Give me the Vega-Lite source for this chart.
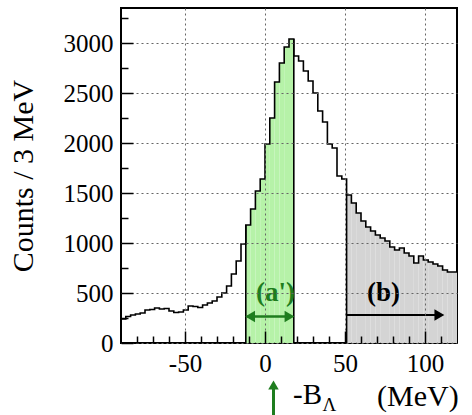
{
  "$schema": "https://vega.github.io/schema/vega-lite/v6.json",
  "width": 336,
  "height": 335,
  "autosize": {"type": "none"},
  "padding": {"left": 121, "top": 8, "right": 15, "bottom": 72},
  "background": "white",
  "config": {
    "view": {"stroke": "black", "strokeWidth": 2},
    "font": "Liberation Serif",
    "axis": {
      "labelFont": "Liberation Serif",
      "titleFont": "Liberation Serif",
      "labelColor": "black",
      "titleColor": "black",
      "tickColor": "black",
      "labelFontSize": 25,
      "domain": false
    }
  },
  "datasets": {
    "hist": [
      {"lo": -90, "hi": -87, "count": 240},
      {"lo": -87, "hi": -84, "count": 265},
      {"lo": -84, "hi": -81, "count": 280},
      {"lo": -81, "hi": -78, "count": 290},
      {"lo": -78, "hi": -75, "count": 300},
      {"lo": -75, "hi": -72, "count": 330},
      {"lo": -72, "hi": -69, "count": 335},
      {"lo": -69, "hi": -66, "count": 350},
      {"lo": -66, "hi": -63, "count": 340},
      {"lo": -63, "hi": -60, "count": 345},
      {"lo": -60, "hi": -57, "count": 320},
      {"lo": -57, "hi": -54, "count": 305},
      {"lo": -54, "hi": -51, "count": 310},
      {"lo": -51, "hi": -48, "count": 330},
      {"lo": -48, "hi": -45, "count": 370},
      {"lo": -45, "hi": -42, "count": 365},
      {"lo": -42, "hi": -39, "count": 355},
      {"lo": -39, "hi": -36, "count": 380},
      {"lo": -36, "hi": -33, "count": 400},
      {"lo": -33, "hi": -30, "count": 420},
      {"lo": -30, "hi": -27, "count": 460},
      {"lo": -27, "hi": -24, "count": 500},
      {"lo": -24, "hi": -21, "count": 570},
      {"lo": -21, "hi": -18, "count": 690},
      {"lo": -18, "hi": -15, "count": 820},
      {"lo": -15, "hi": -12, "count": 990},
      {"lo": -12, "hi": -9, "count": 1180},
      {"lo": -9, "hi": -6, "count": 1340},
      {"lo": -6, "hi": -3, "count": 1520},
      {"lo": -3, "hi": 0, "count": 1640},
      {"lo": 0, "hi": 3, "count": 1990},
      {"lo": 3, "hi": 6, "count": 2250},
      {"lo": 6, "hi": 9, "count": 2610},
      {"lo": 9, "hi": 12, "count": 2800},
      {"lo": 12, "hi": 15, "count": 2960},
      {"lo": 15, "hi": 18, "count": 3040},
      {"lo": 18, "hi": 21, "count": 2870},
      {"lo": 21, "hi": 24, "count": 2820},
      {"lo": 24, "hi": 27, "count": 2720},
      {"lo": 27, "hi": 30, "count": 2620},
      {"lo": 30, "hi": 33, "count": 2500},
      {"lo": 33, "hi": 36, "count": 2320},
      {"lo": 36, "hi": 39, "count": 2210},
      {"lo": 39, "hi": 42, "count": 1990},
      {"lo": 42, "hi": 45, "count": 1950},
      {"lo": 45, "hi": 48, "count": 1670},
      {"lo": 48, "hi": 51, "count": 1640},
      {"lo": 51, "hi": 54, "count": 1480},
      {"lo": 54, "hi": 57, "count": 1400},
      {"lo": 57, "hi": 60, "count": 1300},
      {"lo": 60, "hi": 63, "count": 1220},
      {"lo": 63, "hi": 66, "count": 1160},
      {"lo": 66, "hi": 69, "count": 1120},
      {"lo": 69, "hi": 72, "count": 1080},
      {"lo": 72, "hi": 75, "count": 1050},
      {"lo": 75, "hi": 78, "count": 1020},
      {"lo": 78, "hi": 81, "count": 960},
      {"lo": 81, "hi": 84, "count": 930},
      {"lo": 84, "hi": 87, "count": 950},
      {"lo": 87, "hi": 90, "count": 900},
      {"lo": 90, "hi": 93, "count": 870},
      {"lo": 93, "hi": 96, "count": 800},
      {"lo": 96, "hi": 99, "count": 870},
      {"lo": 99, "hi": 102, "count": 830},
      {"lo": 102, "hi": 105, "count": 810},
      {"lo": 105, "hi": 108, "count": 790},
      {"lo": 108, "hi": 111, "count": 770},
      {"lo": 111, "hi": 114, "count": 730},
      {"lo": 114, "hi": 117, "count": 710},
      {"lo": 117, "hi": 120, "count": 710}
    ]
  },
  "data": {"name": "hist"},
  "resolve": {"axis": {"x": "independent", "y": "independent"}},
  "layer": [
    {
      "transform": [{"filter": "datum.lo >= -12 && datum.hi <= 18"}],
      "mark": {"type": "rect", "color": "#b6f2a8", "opacity": 1},
      "encoding": {
        "x": {
          "field": "lo", "type": "quantitative",
          "scale": {"domain": [-90, 120], "nice": false, "zero": false},
          "axis": {
            "orient": "bottom", "values": [-50, 0, 50, 100], "tickSize": -12, "tickWidth": 1.5,
            "labelFont": "Liberation Serif", "labelFontSize": 25, "labelExpr": "'' + datum.value",
            "labelPadding": 20, "grid": true, "gridDash": [2, 3], "gridColor": "#666", "gridWidth": 1,
            "zindex": 1, "title": null
          }
        },
        "x2": {"field": "hi"},
        "y": {
          "field": "count", "type": "quantitative",
          "scale": {"domain": [0, 3350], "nice": false},
          "axis": {
            "orient": "left", "values": [0, 500, 1000, 1500, 2000, 2500, 3000], "tickSize": -12, "tickWidth": 1.5,
            "labelFont": "Liberation Serif", "labelFontSize": 25, "labelExpr": "'' + datum.value",
            "labelPadding": 20, "grid": true, "gridDash": [2, 3], "gridColor": "#666", "gridWidth": 1,
            "zindex": 1, "title": "Counts / 3 MeV", "titleFontSize": 30, "titleFontWeight": "normal",
            "titlePadding": 25
          }
        },
        "y2": {"datum": 0}
      }
    },
    {
      "transform": [{"filter": "datum.lo >= 51"}],
      "mark": {"type": "rect", "color": "#d4d4d4", "opacity": 1},
      "encoding": {
        "x": {
          "field": "lo", "type": "quantitative",
          "axis": {
            "orient": "bottom", "values": [-80, -70, -60, -40, -30, -20, -10, 10, 20, 30, 40, 60, 70, 80, 90, 110],
            "tickSize": -7, "tickWidth": 1.5, "labels": false, "grid": false, "zindex": 1, "title": null
          }
        },
        "x2": {"field": "hi"},
        "y": {
          "field": "count", "type": "quantitative",
          "axis": {
            "orient": "left", "values": [250, 750, 1250, 1750, 2250, 2750, 3250],
            "tickSize": -7, "tickWidth": 1.5, "labels": false, "grid": false, "zindex": 1, "title": null
          }
        },
        "y2": {"datum": 0}
      }
    },
    {
      "transform": [{"fold": ["lo", "hi"], "as": ["edge", "e"]}],
      "mark": {"type": "line", "color": "black", "strokeWidth": 1.6},
      "encoding": {
        "x": {"field": "e", "type": "quantitative", "axis": null},
        "y": {"field": "count", "type": "quantitative", "axis": null},
        "order": [
          {"field": "e", "type": "quantitative", "sort": "ascending"},
          {"field": "edge", "type": "nominal", "sort": "ascending"}
        ]
      }
    },
    {
      "transform": [{"filter": "datum.lo == -12 || datum.lo == 51"}],
      "mark": {"type": "rule", "color": "black", "strokeWidth": 1.6},
      "encoding": {
        "x": {"field": "lo", "type": "quantitative", "axis": null},
        "y": {"field": "count", "type": "quantitative", "axis": null},
        "y2": {"datum": 0}
      }
    },
    {
      "transform": [{"filter": "datum.hi == 18"}],
      "mark": {"type": "rule", "color": "black", "strokeWidth": 1.6},
      "encoding": {
        "x": {"field": "hi", "type": "quantitative", "axis": null},
        "y": {"field": "count", "type": "quantitative", "axis": null},
        "y2": {"datum": 0}
      }
    },
    {
      "data": {"values": [{}]},
      "mark": {"type": "text", "text": "(a')", "font": "Liberation Serif", "fontSize": 27, "fontWeight": "bold", "color": "#1e7d1e", "align": "center", "baseline": "middle"},
      "encoding": {"x": {"datum": 6.5, "type": "quantitative", "axis": null}, "y": {"datum": 500, "type": "quantitative", "axis": null}}
    },
    {
      "data": {"values": [{}]},
      "mark": {"type": "text", "text": "(b)", "font": "Liberation Serif", "fontSize": 27, "fontWeight": "bold", "color": "black", "align": "center", "baseline": "middle"},
      "encoding": {"x": {"datum": 74, "type": "quantitative", "axis": null}, "y": {"datum": 500, "type": "quantitative", "axis": null}}
    },
    {
      "data": {"values": [{}]},
      "mark": {"type": "rule", "color": "#1e7d1e", "strokeWidth": 2.5},
      "encoding": {"x": {"datum": -11, "type": "quantitative", "axis": null}, "x2": {"datum": 17}, "y": {"datum": 265, "type": "quantitative", "axis": null}}
    },
    {
      "data": {"values": [{}]},
      "mark": {"type": "point", "shape": "triangle-left", "filled": true, "size": 130, "color": "#1e7d1e", "opacity": 1},
      "encoding": {"x": {"datum": -9.3, "type": "quantitative", "axis": null}, "y": {"datum": 265, "type": "quantitative", "axis": null}}
    },
    {
      "data": {"values": [{}]},
      "mark": {"type": "point", "shape": "triangle-right", "filled": true, "size": 130, "color": "#1e7d1e", "opacity": 1},
      "encoding": {"x": {"datum": 15.3, "type": "quantitative", "axis": null}, "y": {"datum": 265, "type": "quantitative", "axis": null}}
    },
    {
      "data": {"values": [{}]},
      "mark": {"type": "rule", "color": "black", "strokeWidth": 2},
      "encoding": {"x": {"datum": 51, "type": "quantitative", "axis": null}, "x2": {"datum": 108}, "y": {"datum": 280, "type": "quantitative", "axis": null}}
    },
    {
      "data": {"values": [{}]},
      "mark": {"type": "point", "shape": "triangle-right", "filled": true, "size": 130, "color": "black", "opacity": 1},
      "encoding": {"x": {"datum": 109, "type": "quantitative", "axis": null}, "y": {"datum": 280, "type": "quantitative", "axis": null}}
    },
    {
      "data": {"values": [{}]},
      "mark": {"type": "rule", "color": "#1e7d1e", "strokeWidth": 3},
      "encoding": {"x": {"datum": 5.3, "type": "quantitative", "axis": null}, "y": {"datum": -430, "type": "quantitative", "axis": null}, "y2": {"datum": -800}}
    },
    {
      "data": {"values": [{}]},
      "mark": {"type": "point", "shape": "triangle-up", "filled": true, "size": 110, "color": "#1e7d1e", "opacity": 1},
      "encoding": {"x": {"datum": 5.3, "type": "quantitative", "axis": null}, "y": {"datum": -420, "type": "quantitative", "axis": null}}
    },
    {
      "data": {"values": [{}]},
      "mark": {"type": "text", "text": "-B", "font": "Liberation Serif", "fontSize": 29, "color": "black", "align": "left", "baseline": "alphabetic"},
      "encoding": {"x": {"datum": 17.5, "type": "quantitative", "axis": null}, "y": {"datum": -610, "type": "quantitative", "axis": null}}
    },
    {
      "data": {"values": [{}]},
      "mark": {"type": "text", "text": "Λ", "font": "Liberation Serif", "fontSize": 19, "color": "black", "align": "left", "baseline": "alphabetic"},
      "encoding": {"x": {"datum": 36, "type": "quantitative", "axis": null}, "y": {"datum": -675, "type": "quantitative", "axis": null}}
    },
    {
      "data": {"values": [{}]},
      "mark": {"type": "text", "text": "(MeV)", "font": "Liberation Serif", "fontSize": 30, "color": "black", "align": "left", "baseline": "alphabetic"},
      "encoding": {"x": {"datum": 70, "type": "quantitative", "axis": null}, "y": {"datum": -625, "type": "quantitative", "axis": null}}
    }
  ]
}
